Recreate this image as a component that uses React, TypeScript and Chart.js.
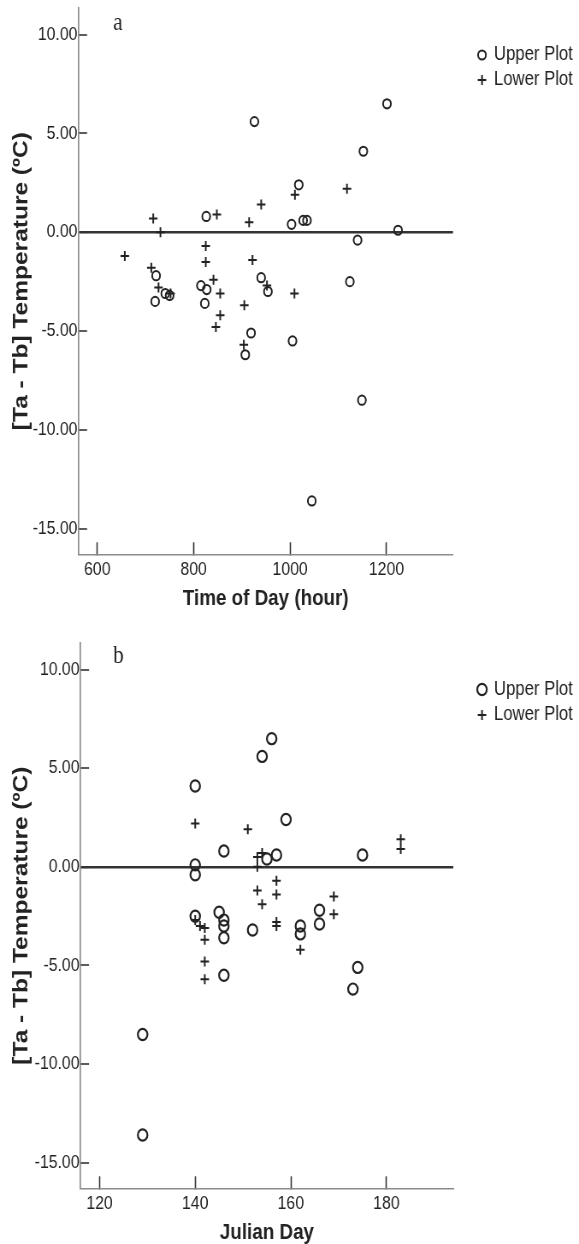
import React, { useEffect, useRef } from "react";
import { Chart, registerables } from "chart.js";

Chart.register(...registerables);

// ---------- Data ----------
// Panel a: Time of Day (hour)
const upperTimeX = [722, 720, 741, 750, 826, 815, 827, 823, 940, 954, 919, 907, 1005, 1003, 1018, 1027, 1035, 926, 1201, 1152, 1140, 1224, 1124, 1149, 1045];
const upperTimeY = [-2.2, -3.5, -3.1, -3.2, 0.8, -2.7, -2.9, -3.6, -2.3, -3.0, -5.1, -6.2, -5.5, 0.4, 2.4, 0.6, 0.6, 5.6, 6.5, 4.1, -0.4, 0.1, -2.5, -8.5, -13.6];
const lowerTimeX = [657, 716, 731, 712, 727, 752, 825, 825, 848, 841, 855, 855, 846, 915, 940, 922, 905, 904, 952, 1010, 1009, 1118];
const lowerTimeY = [-1.2, 0.7, 0.0, -1.8, -2.8, -3.1, -0.7, -1.5, 0.9, -2.4, -3.1, -4.2, -4.8, 0.5, 1.4, -1.4, -3.7, -5.7, -2.7, 1.9, -3.1, 2.2];

// Panel b: Julian Day
const upperDayX = [140, 140, 140, 140, 146, 145, 146, 146, 146, 146, 152, 155, 157, 159, 154, 156, 162, 162, 166, 166, 175, 174, 129, 129, 173];
const upperDayY = [4.1, 0.1, -0.4, -2.5, 0.8, -2.3, -2.7, -3.0, -3.6, -5.5, -3.2, 0.4, 0.6, 2.4, 5.6, 6.5, -3.0, -3.4, -2.2, -2.9, 0.6, -5.1, -8.5, -13.6, -6.2];
const lowerDayX = [140, 140, 141, 142, 142, 142, 142, 151, 153, 153, 154, 153, 154, 157, 157, 157, 157, 162, 169, 169, 183, 183];
const lowerDayY = [2.2, -2.7, -3.0, -3.1, -3.7, -4.8, -5.7, 1.9, 0.5, 0.0, 0.7, -1.2, -1.9, -0.7, -1.4, -2.8, -3.0, -4.2, -1.5, -2.4, 1.4, 0.9];

const seriesLabels = ["Upper Plot", "Lower Plot"];
const yTitle = "[Ta - Tb] Temperature (ºC)";
const xTitleA = "Time of Day (hour)";
const xTitleB = "Julian Day";

// tick values and axis ranges
const yTicks = [-15, -10, -5, 0, 5, 10];
const xTicksA = [600, 800, 1000, 1200];
const xTicksB = [120, 140, 160, 180];
const yMin = -16.3;
const yMax = 11.35;
const xMinA = 561;
const xMaxA = 1338;
const xMinB = 116;
const xMaxB = 194;

// The source figure is horizontally condensed: draw on a wider canvas and show it at page width.
const PAGE_W = 579;
const CANVAS_W = 677;
const K = CANVAS_W / PAGE_W;

const SANS = '"Liberation Sans", Arial, Helvetica, sans-serif';
const INK = "#222";

function zip(xs: number[], ys: number[]) {
  return xs.map((x, i) => ({ x, y: ys[i] }));
}

type PanelCfg = {
  top: number;
  height: number;
  letter: string;
  letterY: number;
  legendY: [number, number];
  ux: number[];
  uy: number[];
  lx: number[];
  ly: number[];
  xMin: number;
  xMax: number;
  xTicks: number[];
  xTitle: string;
  xTitlePad: number;
  padTop: number;
  axisLeft: number; // page px
  plotRight: number; // page px
  xAxisHeight: number;
  circleR: number;
  circleW: number;
  crossR: number;
};

function Panel({ cfg }: { cfg: PanelCfg }) {
  const ref = useRef<HTMLCanvasElement>(null);
  useEffect(() => {
    const annot = {
      id: "annot",
      afterDraw(chart: any) {
        const ctx = chart.ctx as CanvasRenderingContext2D;
        ctx.save();
        ctx.fillStyle = INK;
        ctx.font = '25px "Liberation Serif", "Times New Roman", serif';
        ctx.textBaseline = "alphabetic";
        ctx.textAlign = "left";
        ctx.fillText(cfg.letter, 113 * K, cfg.letterY);
        // legend
        const mx = 482 * K;
        const tx = 494 * K;
        ctx.font = `19.5px ${SANS}`;
        ctx.textBaseline = "middle";
        const ds = chart.data.datasets;
        ctx.strokeStyle = INK;
        ctx.lineWidth = cfg.circleW;
        ctx.beginPath();
        ctx.arc(mx, cfg.legendY[0], cfg.circleR, 0, Math.PI * 2);
        ctx.stroke();
        ctx.fillText(ds[0].label, tx, cfg.legendY[0]);
        ctx.lineWidth = 2;
        ctx.beginPath();
        ctx.moveTo(mx - cfg.crossR, cfg.legendY[1]);
        ctx.lineTo(mx + cfg.crossR, cfg.legendY[1]);
        ctx.moveTo(mx, cfg.legendY[1] - cfg.crossR);
        ctx.lineTo(mx, cfg.legendY[1] + cfg.crossR);
        ctx.stroke();
        ctx.fillText(ds[1].label, tx, cfg.legendY[1]);
        ctx.restore();
      },
    };

    const chart = new Chart(ref.current!, {
      type: "scatter",
      data: {
        datasets: [
          {
            label: seriesLabels[0],
            data: zip(cfg.ux, cfg.uy),
            pointStyle: "circle",
            pointRadius: cfg.circleR,
            pointBorderWidth: cfg.circleW,
            borderColor: INK,
            backgroundColor: "rgba(0,0,0,0)",
          },
          {
            label: seriesLabels[1],
            data: zip(cfg.lx, cfg.ly),
            pointStyle: "cross",
            pointRadius: cfg.crossR,
            pointBorderWidth: 2,
            borderColor: INK,
            backgroundColor: INK,
          },
        ],
      },
      options: {
        responsive: false,
        animation: false,
        devicePixelRatio: 1,
        layout: {
          padding: { top: cfg.padTop, right: CANVAS_W - cfg.plotRight * K, bottom: 0, left: 0 },
        },
        plugins: {
          legend: { display: false },
          tooltip: { enabled: false },
        },
        scales: {
          x: {
            type: "linear",
            position: "bottom",
            min: cfg.xMin,
            max: cfg.xMax,
            afterBuildTicks: (s: any) => {
              s.ticks = cfg.xTicks.map((v) => ({ value: v }));
            },
            afterFit: (s: any) => {
              s.height = cfg.xAxisHeight;
              s.paddingLeft = 0;
              s.paddingRight = 0;
            },
            ticks: {
              padding: 17,
              color: INK,
              font: { family: SANS, size: 18.5 },
              maxRotation: 0,
              autoSkip: false,
              callback: (v: any) => String(v),
            },
            grid: {
              drawOnChartArea: false,
              drawTicks: true,
              tickLength: -12,
              tickColor: "#333",
              tickWidth: 1.6,
            },
            border: { display: true, color: "#8c8c8c", width: 1.5 },
            title: {
              display: true,
              text: cfg.xTitle,
              color: INK,
              font: { family: SANS, size: 22, weight: "bold", lineHeight: 1 },
              padding: { top: 0, bottom: cfg.xTitlePad },
            },
          },
          y: {
            type: "linear",
            min: yMin,
            max: yMax,
            afterBuildTicks: (s: any) => {
              s.ticks = yTicks.map((v) => ({ value: v }));
            },
            afterFit: (s: any) => {
              s.width = cfg.axisLeft * K;
              s.paddingTop = 0;
              s.paddingBottom = 0;
            },
            ticks: {
              padding: 11.2,
              color: INK,
              autoSkip: false,
              font: { family: SANS, size: 18.5 },
              callback: (v: any) => Number(v).toFixed(2),
            },
            grid: {
              drawOnChartArea: true,
              color: (c: any) => (c.tick && c.tick.value === 0 ? "#333" : "rgba(0,0,0,0)"),
              lineWidth: (c: any) => (c.tick && c.tick.value === 0 ? 2.6 : 0),
              drawTicks: true,
              tickLength: -10,
              tickColor: "#333",
              tickWidth: 1.6,
            },
            border: { display: true, color: "#8c8c8c", width: 1.7 },
            title: {
              display: true,
              text: yTitle,
              color: INK,
              font: { family: SANS, size: 24.5, weight: "bold", lineHeight: 1 },
              padding: { top: 12.5, bottom: 0 },
            },
          },
        },
      } as any,
      plugins: [annot],
    });
    return () => chart.destroy();
  }, []);
  return (
    <div style={{ position: "absolute", left: 0, top: cfg.top, width: PAGE_W, height: cfg.height }}>
      <canvas
        ref={ref}
        width={CANVAS_W}
        height={cfg.height}
        style={{ display: "block", width: PAGE_W + "px", height: cfg.height + "px" }}
      />
    </div>
  );
}

const panelA: PanelCfg = {
  top: 0,
  height: 620,
  letter: "a",
  letterY: 30,
  legendY: [55, 80],
  ux: upperTimeX,
  uy: upperTimeY,
  lx: lowerTimeX,
  ly: lowerTimeY,
  xMin: xMinA,
  xMax: xMaxA,
  xTicks: xTicksA,
  xTitle: xTitleA,
  xTitlePad: 10.5,
  padTop: 8,
  axisLeft: 78.5,
  plotRight: 453,
  xAxisHeight: 65.7,
  circleR: 4.6,
  circleW: 2,
  crossR: 5,
};

const panelB: PanelCfg = {
  top: 620,
  height: 624,
  letter: "b",
  letterY: 43,
  legendY: [69.5, 95],
  ux: upperDayX,
  uy: upperDayY,
  lx: lowerDayX,
  ly: lowerDayY,
  xMin: xMinB,
  xMax: xMaxB,
  xTicks: xTicksB,
  xTitle: xTitleB,
  xTitlePad: 0,
  padTop: 23,
  axisLeft: 80.5,
  plotRight: 453.3,
  xAxisHeight: 55.7,
  circleR: 5.6,
  circleW: 2.2,
  crossR: 5,
};

export default function App() {
  return (
    <div
      style={{
        position: "absolute",
        left: 0,
        top: 0,
        width: PAGE_W,
        height: 1244,
        overflow: "hidden",
        background: "#fff",
      }}
    >
      <Panel cfg={panelA} />
      <Panel cfg={panelB} />
    </div>
  );
}
